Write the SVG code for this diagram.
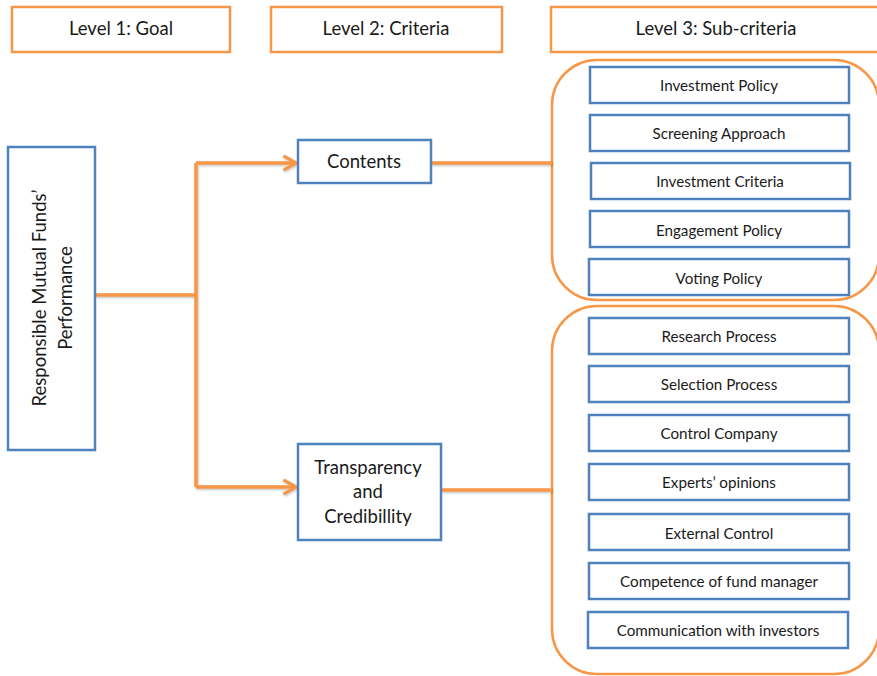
<svg xmlns="http://www.w3.org/2000/svg" width="877" height="676" viewBox="0 0 877 676">
  <defs>
    <style>
      .hdr { fill: #fff; stroke: #F79646; stroke-width: 2.5; }
      .box { fill: #fff; stroke: #4F81BD; stroke-width: 2.5; }
      .grp { fill: none; stroke: #F79646; stroke-width: 2.5; }
      .wire { fill: none; stroke: #F79646; stroke-width: 3.5; }
      .t { font-family: Lato, "Open Sans", "Liberation Sans", sans-serif; fill: #1a1a1a; text-anchor: middle; }
      .th { font-size: 18.5px; }
      .tc { font-size: 18.5px; }
      .ts { font-size: 15.2px; }
    </style>
    <marker id="arr" viewBox="0 0 10 10" refX="8" refY="5" markerWidth="4.6" markerHeight="4.6" orient="auto" markerUnits="strokeWidth">
      <path d="M1,1 L8,5 L1,9" fill="none" stroke="#F79646" stroke-width="2" stroke-linecap="round" stroke-linejoin="round"/>
    </marker>
    <filter id="sh" x="-5%" y="-5%" width="110%" height="110%">
      <feDropShadow dx="0.8" dy="1.2" stdDeviation="0.8" flood-color="#000" flood-opacity="0.25"/>
    </filter>
  </defs>

  <!-- level headers -->
  <g id="hdr1"><rect class="hdr" x="12" y="7" width="218" height="45"/><text class="t th" x="121" y="35">Level 1: Goal</text></g>
  <g id="hdr2"><rect class="hdr" x="271" y="7" width="231" height="45"/><text class="t th" x="386" y="35">Level 2: Criteria</text></g>
  <g id="hdr3"><rect class="hdr" x="551" y="7" width="330" height="45"/><text class="t th" x="716" y="35">Level 3: Sub-criteria</text></g>

  <!-- sub-criteria groupings -->
  <g id="group-contents"><rect class="grp" x="552" y="60" width="327" height="240" rx="45"/></g>
  <g id="group-transparency"><rect class="grp" x="552" y="306" width="327" height="368" rx="45"/></g>

  <!-- connectors -->
  <g id="connectors" filter="url(#sh)">
    <path class="wire" d="M95,295 H196"/>
    <path class="wire" d="M196,163 V487"/>
    <path class="wire" d="M196,163 H296" marker-end="url(#arr)"/>
    <path class="wire" d="M196,487 H296" marker-end="url(#arr)"/>
    <path class="wire" d="M431,163 H552"/>
    <path class="wire" d="M441,490 H552"/>
  </g>

  <!-- goal -->
  <g id="goal">
    <rect class="box" x="8" y="147" width="87" height="303"/>
    <text class="t tc" transform="translate(52,298) rotate(-90)"><tspan x="0" y="-6">Responsible Mutual Funds’</tspan><tspan x="0" y="20">Performance</tspan></text>
  </g>

  <!-- criteria -->
  <g id="contents">
    <rect class="box" x="298" y="140" width="133" height="43"/>
    <text class="t tc" x="364" y="168">Contents</text>
  </g>
  <g id="transparency">
    <rect class="box" x="298" y="444" width="143" height="96"/>
    <text class="t tc" x="368" y="474">Transparency</text>
    <text class="t tc" x="368" y="498">and</text>
    <text class="t tc" x="368" y="523">Credibillity</text>
  </g>

  <!-- sub-criteria: contents -->
  <g id="investment-policy"><rect class="box" x="590" y="67" width="259" height="36"/><text class="t ts" x="719" y="91">Investment Policy</text></g>
  <g id="screening-approach"><rect class="box" x="590" y="115" width="259" height="36"/><text class="t ts" x="719" y="139">Screening Approach</text></g>
  <g id="investment-criteria"><rect class="box" x="591" y="163" width="259" height="36"/><text class="t ts" x="720" y="187">Investment Criteria</text></g>
  <g id="engagement-policy"><rect class="box" x="590" y="211" width="259" height="36"/><text class="t ts" x="719" y="236">Engagement Policy</text></g>
  <g id="voting-policy"><rect class="box" x="589" y="259" width="260" height="36"/><text class="t ts" x="719" y="284">Voting Policy</text></g>

  <!-- sub-criteria: transparency and credibility -->
  <g id="research-process"><rect class="box" x="589" y="318" width="260" height="36"/><text class="t ts" x="719" y="342">Research Process</text></g>
  <g id="selection-process"><rect class="box" x="589" y="366" width="260" height="36"/><text class="t ts" x="719" y="390">Selection Process</text></g>
  <g id="control-company"><rect class="box" x="589" y="415" width="260" height="36"/><text class="t ts" x="719" y="439">Control Company</text></g>
  <g id="experts-opinions"><rect class="box" x="589" y="464" width="260" height="36"/><text class="t ts" x="719" y="488">Experts’ opinions</text></g>
  <g id="external-control"><rect class="box" x="589" y="514" width="260" height="36"/><text class="t ts" x="719" y="539">External Control</text></g>
  <g id="fund-manager"><rect class="box" x="589" y="563" width="260" height="36"/><text class="t ts" x="719" y="587">Competence of fund manager</text></g>
  <g id="communication"><rect class="box" x="588" y="612" width="260" height="36"/><text class="t ts" x="718" y="636">Communication with investors</text></g>
</svg>
